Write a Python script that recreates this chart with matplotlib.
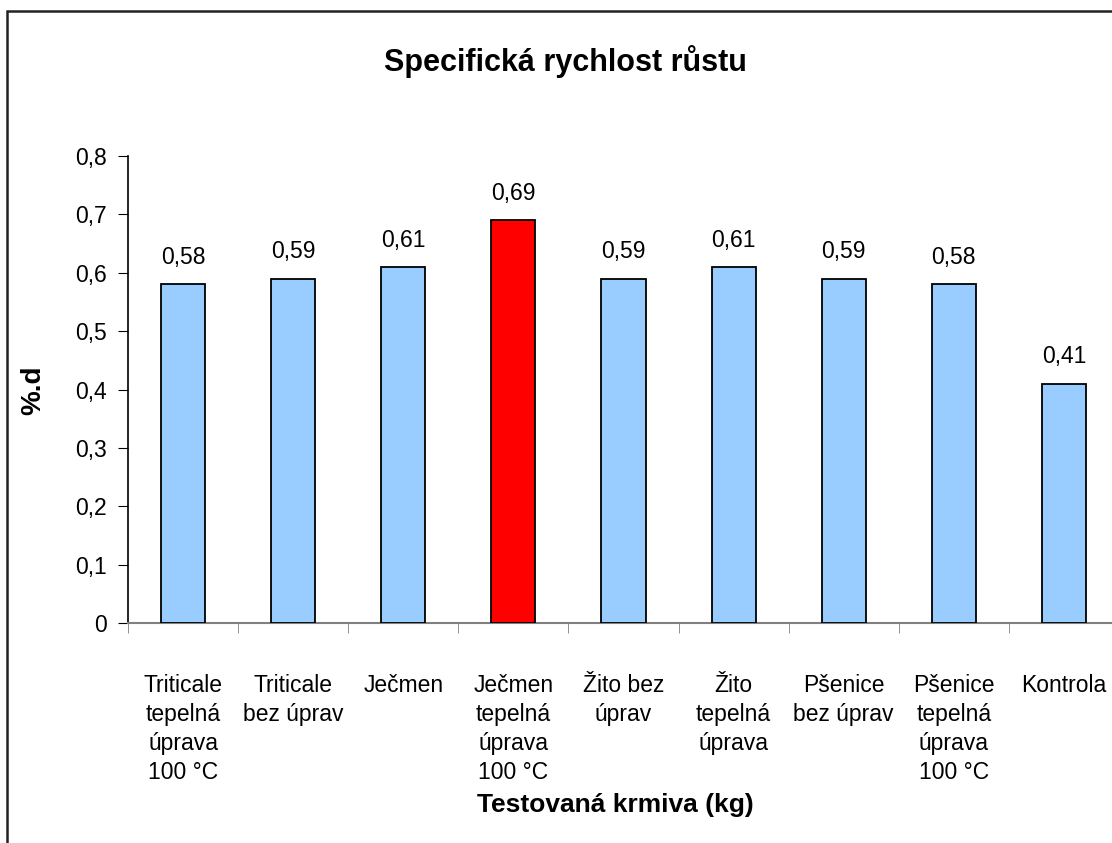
import matplotlib
matplotlib.use("Agg")
import matplotlib.pyplot as plt
from matplotlib.patches import Rectangle

plt.rcParams['font.family'] = ['Liberation Sans', 'DejaVu Sans']

# data
categories = [
    "Triticale\ntepelná\núprava\n100 °C",
    "Triticale\nbez úprav",
    "Ječmen",
    "Ječmen\ntepelná\núprava\n100 °C",
    "Žito bez\núprav",
    "Žito\ntepelná\núprava",
    "Pšenice\nbez úprav",
    "Pšenice\ntepelná\núprava\n100 °C",
    "Kontrola",
]
values = [0.58, 0.59, 0.61, 0.69, 0.59, 0.61, 0.59, 0.58, 0.41]
bar_colors = ['#99CCFF', '#99CCFF', '#99CCFF', '#FF0000', '#99CCFF',
              '#99CCFF', '#99CCFF', '#99CCFF', '#99CCFF']

fig = plt.figure(figsize=(11.12, 8.43), dpi=100)
ax = fig.add_axes([128 / 1112, 1 - 623 / 843, (1119 - 128) / 1112, (623 - 156) / 843])

x = list(range(len(values)))
ax.bar(x, values, width=0.4, color=bar_colors, edgecolor='black', linewidth=1.3, zorder=3)

for xi, v in zip(x, values):
    ax.annotate(f"{v:.2f}".replace('.', ','), (xi, v), xytext=(0, 11),
                textcoords='offset points', ha='center', va='bottom', fontsize=16.5)

ax.set_xlim(-0.5, len(values) - 0.5)
ax.set_ylim(0, 0.8)
yt = [i / 10 for i in range(9)]
ax.set_yticks(yt)
ax.set_yticklabels([("%g" % t).replace('.', ',') for t in yt], fontsize=16.5)

ax.set_xticks(x)
ax.set_xticklabels(categories, fontsize=16.5, linespacing=1.33, va='top')
ax.tick_params(axis='x', length=0, pad=37)
# category separator ticks
ax.set_xticks([i - 0.5 for i in range(len(values) + 1)], minor=True)
ax.tick_params(axis='x', which='minor', length=7, color='#808080', direction='out')
ax.tick_params(axis='y', length=7, direction='out', pad=8)

for s in ['top', 'right']:
    ax.spines[s].set_visible(False)
ax.spines['bottom'].set_color('#808080')
ax.spines['bottom'].set_linewidth(1.5)
ax.spines['left'].set_linewidth(1.2)

ax.set_ylabel("%.d", fontsize=20, fontweight='bold')
ax.set_xlabel("Testovaná krmiva (kg)", fontsize=19, fontweight='bold')
ax.xaxis.set_label_coords((615 - 128) / (1119 - 128), -(805 - 623) / (623 - 156))
ax.yaxis.set_label_coords(-(128 - 33) / (1119 - 128), (623 - 390) / (623 - 156))
ax.xaxis.label.set_va('center')
ax.yaxis.label.set_va('center')

fig.text(565 / 1112, 1 - 62 / 843, "Specifická rychlost růstu", ha='center', va='center',
         fontsize=22, fontweight='bold')

# chart frame (cut off at right and bottom)
fig.patches.append(Rectangle((7 / 1112, -0.1), 1.2, 1 - 11 / 843 + 0.1,
                             transform=fig.transFigure, fill=False,
                             edgecolor='#222222', linewidth=1.8))

fig.savefig("out.png", dpi=100)
